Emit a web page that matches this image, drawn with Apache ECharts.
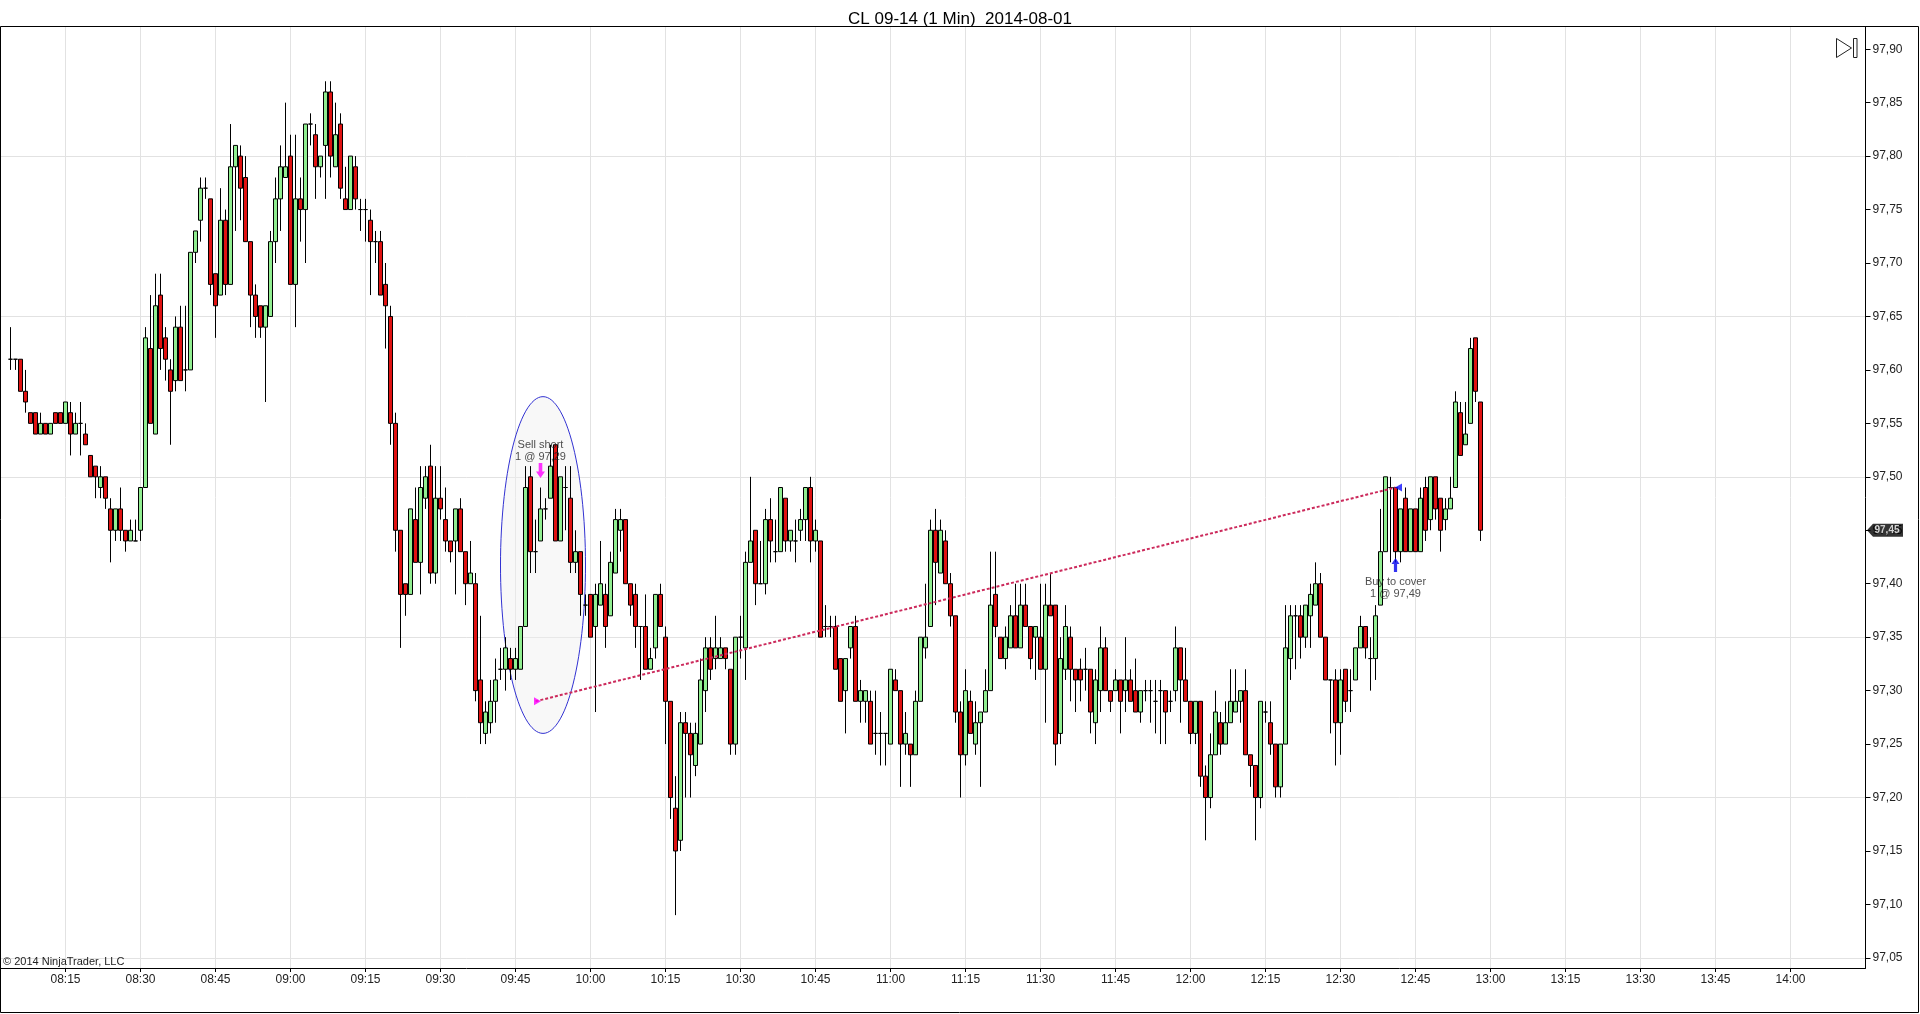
<!DOCTYPE html>
<html>
<head>
<meta charset="utf-8">
<title>CL 09-14 (1 Min) 2014-08-01</title>
<script src="https://cdn.jsdelivr.net/npm/echarts@6.0.0/dist/echarts.min.js"></script>
<style>
html,body{margin:0;padding:0;background:#fff;overflow:hidden}
#chart{width:1920px;height:1014px}
</style>
</head>
<body>
<div id="chart"></div>
<script>
// ---------------- DATA ----------------
const chartTitle = 'CL 09-14 (1 Min)  2014-08-01';
const axisStart = '08:02';
const axisEnd = '14:15';
const firstBar = '08:04';
const yTickMin = 97.05, yTickMax = 97.90, yTickStep = 0.05;

// 1-minute OHLC, one array per hour (08:04 .. 12:58)
const open08 = [97.61,97.61,97.61,97.58,97.56,97.56,97.54,97.55,97.54,97.56, 97.56,97.55,97.56,97.54,97.55,97.54,97.52,97.51,97.49,97.50, 97.47,97.45,97.47,97.45,97.44,97.44,97.45,97.49,97.62,97.54, 97.67,97.63,97.60,97.59,97.64,97.60,97.60,97.71,97.74,97.77, 97.76,97.69,97.67,97.74,97.68,97.79,97.80,97.78,97.72,97.67, 97.66,97.64,97.65,97.72,97.76,97.78];
const close08 = [97.61,97.61,97.58,97.57,97.55,97.54,97.55,97.54,97.55,97.55, 97.55,97.57,97.54,97.55,97.55,97.53,97.50,97.50,97.50,97.48, 97.45,97.47,97.45,97.44,97.45,97.44,97.49,97.63,97.55,97.66, 97.62,97.61,97.58,97.64,97.59,97.60,97.71,97.73,97.77,97.77, 97.68,97.66,97.74,97.68,97.79,97.81,97.77,97.72,97.67,97.65, 97.64,97.66,97.72,97.76,97.79,97.79];
const low08 = [97.60,97.60,97.58,97.56,97.55,97.54,97.54,97.54,97.54,97.55, 97.55,97.55,97.52,97.54,97.52,97.53,97.50,97.48,97.48,97.47, 97.42,97.44,97.44,97.43,97.44,97.44,97.44,97.49,97.55,97.54, 97.60,97.59,97.53,97.58,97.59,97.58,97.60,97.70,97.72,97.76, 97.67,97.63,97.67,97.67,97.68,97.73,97.74,97.72,97.64,97.63, 97.63,97.57,97.65,97.70,97.73,97.78];
const high08 = [97.64,97.61,97.61,97.60,97.56,97.56,97.56,97.55,97.55,97.56, 97.56,97.57,97.57,97.56,97.57,97.55,97.52,97.51,97.51,97.50, 97.48,97.47,97.49,97.45,97.46,97.46,97.49,97.64,97.67,97.69, 97.69,97.64,97.61,97.65,97.66,97.66,97.71,97.73,97.78,97.78, 97.76,97.69,97.77,97.75,97.83,97.81,97.81,97.80,97.72,97.68, 97.66,97.66,97.73,97.78,97.81,97.85];

const open09 = [97.80,97.68,97.76,97.75,97.83,97.82,97.79,97.81,97.86,97.79, 97.83,97.76,97.75,97.79,97.75,97.75,97.74,97.72,97.72,97.68, 97.65,97.55,97.45,97.40,97.39,97.46,97.42,97.48,97.51,97.41, 97.48,97.46,97.44,97.44,97.47,97.43,97.40,97.40,97.31,97.26, 97.27,97.29,97.32,97.32,97.33,97.32,97.32,97.36,97.50,97.43, 97.44,97.47,97.48,97.53,97.44,97.49,97.48,97.42,97.43,97.38];
const close09 = [97.68,97.76,97.75,97.83,97.83,97.79,97.80,97.86,97.80,97.82, 97.77,97.75,97.80,97.76,97.75,97.75,97.72,97.72,97.67,97.66, 97.55,97.45,97.39,97.39,97.47,97.42,97.49,97.50,97.41,97.48, 97.47,97.44,97.43,97.47,97.43,97.40,97.41,97.30,97.27,97.28, 97.29,97.31,97.32,97.34,97.32,97.33,97.36,97.49,97.43,97.43, 97.47,97.47,97.51,97.44,97.50,97.49,97.42,97.43,97.39,97.38];
const low09 = [97.68,97.64,97.72,97.70,97.81,97.76,97.78,97.76,97.78,97.79, 97.76,97.75,97.75,97.75,97.73,97.72,97.67,97.70,97.67,97.62, 97.53,97.43,97.34,97.37,97.39,97.42,97.39,97.47,97.40,97.40, 97.46,97.43,97.42,97.39,97.43,97.38,97.40,97.29,97.25,97.25, 97.26,97.27,97.31,97.30,97.31,97.31,97.32,97.36,97.41,97.41, 97.44,97.46,97.48,97.44,97.44,97.45,97.41,97.41,97.37,97.37];
const high09 = [97.82,97.82,97.78,97.83,97.84,97.83,97.80,97.87,97.87,97.85, 97.84,97.79,97.80,97.80,97.76,97.76,97.75,97.73,97.73,97.70, 97.66,97.56,97.45,97.40,97.47,97.49,97.51,97.51,97.53,97.51, 97.51,97.49,97.44,97.47,97.48,97.43,97.44,97.41,97.37,97.29, 97.31,97.33,97.34,97.35,97.34,97.34,97.36,97.51,97.51,97.46, 97.49,97.48,97.53,97.53,97.50,97.51,97.51,97.45,97.43,97.39];

const open10 = [97.39,97.36,97.38,97.39,97.37,97.41,97.45,97.46,97.40,97.39, 97.36,97.36,97.32,97.34,97.39,97.35,97.29,97.19,97.16,97.27, 97.26,97.23,97.25,97.30,97.34,97.33,97.33,97.34,97.32,97.25, 97.35,97.34,97.42,97.45,97.40,97.40,97.46,97.43,97.43,97.48, 97.44,97.44,97.45,97.46,97.49,97.44,97.44,97.36,97.36,97.36, 97.33,97.30,97.34,97.36,97.29,97.29,97.29,97.26,97.26,97.26];
const close10 = [97.35,97.39,97.40,97.36,97.42,97.46,97.46,97.40,97.38,97.36, 97.36,97.32,97.33,97.39,97.36,97.29,97.20,97.15,97.27,97.26, 97.24,97.26,97.31,97.34,97.32,97.34,97.34,97.33,97.25,97.35, 97.35,97.42,97.44,97.40,97.40,97.46,97.44,97.43,97.49,97.44, 97.45,97.44,97.46,97.49,97.44,97.45,97.35,97.36,97.36,97.32, 97.29,97.33,97.36,97.29,97.30,97.30,97.25,97.26,97.26,97.26];
const low10 = [97.35,97.28,97.38,97.34,97.37,97.41,97.43,97.40,97.37,97.34, 97.31,97.32,97.32,97.33,97.36,97.25,97.18,97.09,97.15,97.20, 97.20,97.22,97.25,97.28,97.31,97.32,97.33,97.32,97.24,97.24, 97.33,97.31,97.42,97.38,97.40,97.39,97.42,97.42,97.43,97.43, 97.43,97.42,97.44,97.44,97.42,97.43,97.35,97.35,97.35,97.32, 97.29,97.26,97.33,97.29,97.27,97.27,97.25,97.24,97.23,97.23];
const high10 = [97.39,97.40,97.44,97.40,97.43,97.47,97.47,97.46,97.40,97.40, 97.36,97.39,97.34,97.39,97.40,97.36,97.29,97.22,97.28,97.28, 97.27,97.27,97.33,97.35,97.35,97.37,97.35,97.34,97.32,97.35, 97.37,97.43,97.50,97.45,97.44,97.47,97.48,97.46,97.49,97.48, 97.45,97.46,97.47,97.49,97.50,97.46,97.44,97.38,97.37,97.37, 97.33,97.33,97.36,97.37,97.31,97.30,97.30,97.30,97.28,97.26];

const open11 = [97.25,97.31,97.30,97.25,97.25,97.24,97.29,97.34,97.36,97.45, 97.41,97.44,97.40,97.37,97.28,97.24,97.29,97.25,97.27,97.28, 97.30,97.39,97.35,97.33,97.34,97.37,97.34,97.38,97.36,97.35, 97.35,97.32,97.38,97.38,97.26,97.32,97.35,97.32,97.32,97.32, 97.32,97.27,97.30,97.34,97.30,97.30,97.31,97.30,97.31,97.30, 97.28,97.30,97.30,97.29,97.30,97.30,97.29,97.30,97.34,97.31];
const close11 = [97.32,97.30,97.25,97.26,97.24,97.29,97.35,97.35,97.45,97.42, 97.45,97.40,97.37,97.28,97.24,97.30,97.26,97.27,97.28,97.30, 97.38,97.36,97.33,97.35,97.37,97.34,97.38,97.36,97.33,97.36, 97.32,97.38,97.37,97.25,97.33,97.36,97.32,97.31,97.31,97.32, 97.28,97.31,97.34,97.30,97.29,97.31,97.29,97.31,97.29,97.28, 97.30,97.30,97.30,97.29,97.30,97.28,97.29,97.34,97.31,97.29];
const low11 = [97.25,97.30,97.21,97.24,97.21,97.24,97.29,97.33,97.36,97.38, 97.41,97.40,97.36,97.27,97.20,97.23,97.26,97.24,97.21,97.28, 97.30,97.35,97.33,97.32,97.34,97.34,97.34,97.36,97.32,97.31, 97.32,97.27,97.37,97.23,97.25,97.31,97.29,97.28,97.29,97.30, 97.26,97.25,97.28,97.30,97.28,97.30,97.26,97.28,97.29,97.28, 97.27,97.29,97.27,97.26,97.25,97.25,97.28,97.29,97.27,97.29];
const high11 = [97.32,97.32,97.30,97.28,97.25,97.30,97.35,97.40,97.46,97.47, 97.46,97.45,97.41,97.37,97.29,97.32,97.30,97.29,97.28,97.32, 97.43,97.43,97.35,97.36,97.38,97.40,97.40,97.40,97.36,97.36, 97.40,97.40,97.41,97.38,97.35,97.38,97.36,97.32,97.33,97.34, 97.32,97.32,97.36,97.35,97.30,97.32,97.31,97.35,97.32,97.33, 97.30,97.31,97.31,97.31,97.31,97.30,97.30,97.36,97.34,97.34];

const open12 = [97.29,97.26,97.29,97.22,97.20,97.24,97.27,97.25,97.27,97.28, 97.29,97.30,97.24,97.23,97.20,97.28,97.27,97.25,97.21,97.25, 97.33,97.37,97.37,97.35,97.37,97.38,97.40,97.35,97.31,97.31, 97.27,97.32,97.30,97.31,97.34,97.36,97.33,97.33,97.38,97.43, 97.49,97.49,97.43,97.48,97.43,97.47,97.43,97.49,97.46,97.50, 97.48,97.46,97.47,97.49,97.56,97.53,97.55,97.63,97.57];
const close12 = [97.26,97.29,97.22,97.20,97.24,97.28,97.25,97.27,97.29,97.29, 97.30,97.24,97.23,97.20,97.29,97.28,97.25,97.21,97.25,97.34, 97.37,97.37,97.35,97.38,97.39,97.40,97.35,97.31,97.31,97.27, 97.31,97.29,97.30,97.34,97.36,97.34,97.33,97.37,97.43,97.50, 97.49,97.43,97.47,97.43,97.47,97.43,97.48,97.45,97.50,97.47, 97.45,97.47,97.48,97.57,97.52,97.54,97.62,97.58,97.45];
const low12 = [97.25,97.25,97.21,97.16,97.19,97.24,97.24,97.25,97.27,97.28, 97.27,97.24,97.21,97.16,97.19,97.27,97.24,97.20,97.20,97.25, 97.31,97.32,97.33,97.34,97.34,97.38,97.35,97.31,97.26,97.23, 97.24,97.28,97.28,97.31,97.34,97.33,97.30,97.31,97.38,97.43, 97.42,97.42,97.42,97.43,97.43,97.43,97.43,97.44,97.45,97.46, 97.43,97.45,97.47,97.49,97.52,97.53,97.55,97.57,97.44];
const high12 = [97.29,97.29,97.29,97.23,97.26,97.30,97.28,97.29,97.32,97.32, 97.30,97.32,97.24,97.23,97.29,97.29,97.29,97.25,97.25,97.38, 97.38,97.38,97.38,97.38,97.40,97.42,97.41,97.35,97.31,97.32, 97.32,97.32,97.32,97.34,97.37,97.36,97.35,97.38,97.47,97.50, 97.50,97.49,97.47,97.49,97.47,97.47,97.49,97.50,97.50,97.50, 97.48,97.48,97.50,97.58,97.57,97.57,97.63,97.63,97.57];

// Trade (entry / exit) and the highlight ellipse
const tradeEntry = { time: '09:49', price: 97.29, arrowTime: '09:50', arrowPrice: 97.506, textPrice: 97.5245, text: 'Sell short\n1 @ 97,29' };
const tradeExit  = { time: '12:41', price: 97.49, arrowTime: '12:41', arrowPrice: 97.4175, textPrice: 97.396, text: 'Buy to cover\n1 @ 97,49' };
const ellipseTimes = ['09:42', '09:59'];
const ellipsePrices = [97.575, 97.26];

// ---------------- BUILD ----------------
function toMin(s){ const p = s.split(':'); return (+p[0])*60 + (+p[1]); }
function fmtMin(m){ return String(Math.floor(m/60)).padStart(2,'0') + ':' + String(m%60).padStart(2,'0'); }
const cats = [];
for (let m = toMin(axisStart); m <= toMin(axisEnd); m++) cats.push(fmtMin(m));

const opens  = [].concat(open08, open09, open10, open11, open12);
const closes = [].concat(close08, close09, close10, close11, close12);
const lows   = [].concat(low08, low09, low10, low11, low12);
const highs  = [].concat(high08, high09, high10, high11, high12);
const firstIdx = cats.indexOf(firstBar);
const candleData = opens.map((o, k) => [firstIdx + k, o, closes[k], lows[k], highs[k]]);
const lastClose = closes[closes.length - 1];

const quarter = (i, v) => (+v.slice(3)) % 15 === 0 && v !== axisEnd;
const fmtPrice = v => Number(v).toFixed(2).replace('.', ',');
const FONT = 'Arial, "Liberation Sans", sans-serif';

const GL = 0.5, GR = 54.5;

const option = {
  animation: false,
  backgroundColor: '#ffffff',
  title: {
    text: chartTitle, left: 'center', top: 6,
    textStyle: { fontFamily: FONT, fontSize: 17, fontWeight: 'normal', color: '#000' }
  },
  grid: [
    { left: GL, right: GR, top: 27, bottom: 46 },
    { left: GL, right: GR, top: 49.2, bottom: 56.1 }
  ],
  xAxis: [
    {
      type: 'category', gridIndex: 0, data: cats, boundaryGap: false,
      axisLine: { show: true, onZero: false, lineStyle: { color: '#000', width: 1 } },
      axisTick: { show: true, interval: quarter, length: 4, lineStyle: { color: '#000' } },
      axisLabel: { interval: quarter, color: '#222', fontSize: 12, fontFamily: FONT, margin: 6 },
      splitLine: { show: true, interval: quarter, lineStyle: { color: '#e2e2e2', width: 1 } }
    },
    {
      type: 'category', gridIndex: 1, data: cats, boundaryGap: false, show: false
    }
  ],
  yAxis: [
    {
      type: 'value', gridIndex: 0, position: 'right', min: 0, max: 1,
      axisLine: { show: true, onZero: false, lineStyle: { color: '#000', width: 1 } },
      axisTick: { show: false }, axisLabel: { show: false }, splitLine: { show: false }
    },
    {
      type: 'value', gridIndex: 1, position: 'right', min: yTickMin, max: yTickMax, interval: yTickStep,
      axisLine: { show: false },
      axisTick: { show: true, length: 5, lineStyle: { color: '#000' } },
      axisLabel: { formatter: fmtPrice, color: '#222', fontSize: 12, fontFamily: FONT, margin: 7 },
      splitLine: { show: true, lineStyle: { color: ['#e2e2e2', 'rgba(0,0,0,0)', 'rgba(0,0,0,0)'], width: 1 } }
    }
  ],
  series: [
    {
      type: 'custom', name: 'ellipse', xAxisIndex: 1, yAxisIndex: 1, z: 1,
      encode: { x: [0, 1], y: [2, 3] },
      data: [[cats.indexOf(ellipseTimes[0]), cats.indexOf(ellipseTimes[1]), ellipsePrices[0], ellipsePrices[1]]],
      renderItem: function (params, api) {
        const a = api.coord([api.value(0), api.value(2)]);
        const b = api.coord([api.value(1), api.value(3)]);
        const cx = (a[0] + b[0]) / 2, cy = (a[1] + b[1]) / 2;
        const rx = Math.abs(b[0] - a[0]) / 2, ry = Math.abs(b[1] - a[1]) / 2;
        const pts = [];
        for (let i = 0; i < 120; i++) {
          const t = i / 120 * Math.PI * 2;
          pts.push([cx + rx * Math.cos(t), cy + ry * Math.sin(t)]);
        }
        return { type: 'polygon', shape: { points: pts },
          style: { fill: 'rgba(240,240,240,0.45)', stroke: '#3232d2', lineWidth: 1 } };
      }
    },
    {
      type: 'candlestick', name: 'CL', xAxisIndex: 1, yAxisIndex: 1, z: 3,
      encode: { x: 0, y: [1, 2, 3, 4] },
      data: candleData,
      barWidth: 4,
      itemStyle: { color: '#90ee90', color0: '#e01212', borderColor: '#000', borderColor0: '#000', borderColorDoji: '#000', borderWidth: 1 }
    },
    {
      type: 'line', name: 'trade', xAxisIndex: 1, yAxisIndex: 1, z: 4,
      data: [[tradeEntry.time, tradeEntry.price], [tradeExit.time, tradeExit.price]],
      symbol: 'none',
      lineStyle: { color: '#cc2a5c', width: 2, type: [3, 2] }
    },
    {
      type: 'scatter', name: 'entryMark', xAxisIndex: 1, yAxisIndex: 1, z: 5, clip: false,
      data: [[tradeEntry.time, tradeEntry.price]],
      symbol: 'triangle', symbolRotate: -90, symbolSize: [8, 7], symbolOffset: [2, 0],
      itemStyle: { color: '#ff00ff' }
    },
    {
      type: 'scatter', name: 'exitMark', xAxisIndex: 1, yAxisIndex: 1, z: 5, clip: false,
      data: [[tradeExit.time, tradeExit.price]],
      symbol: 'triangle', symbolRotate: 90, symbolSize: [8, 7], symbolOffset: [3, 0],
      itemStyle: { color: '#1010ff' }
    },
    {
      type: 'scatter', name: 'sellArrow', xAxisIndex: 1, yAxisIndex: 1, z: 6, clip: false,
      data: [[tradeEntry.arrowTime, tradeEntry.arrowPrice]],
      symbol: 'path://M3,0 L7,0 L7,8 L10,8 L5,14 L0,8 L3,8 Z', symbolSize: [9, 15],
      itemStyle: { color: '#ff00ff' }
    },
    {
      type: 'scatter', name: 'buyArrow', xAxisIndex: 1, yAxisIndex: 1, z: 6, clip: false,
      data: [[tradeExit.arrowTime, tradeExit.arrowPrice]],
      symbol: 'path://M5,0 L10,6 L7,6 L7,14 L3,14 L3,6 L0,6 Z', symbolSize: [8, 14],
      itemStyle: { color: '#0000ee' }
    },
    {
      type: 'scatter', name: 'texts', xAxisIndex: 1, yAxisIndex: 1, z: 7, clip: false,
      data: [
        { value: [tradeEntry.arrowTime, tradeEntry.textPrice], label: { formatter: tradeEntry.text } },
        { value: [tradeExit.arrowTime, tradeExit.textPrice], label: { formatter: tradeExit.text } }
      ],
      symbolSize: 1, itemStyle: { color: 'rgba(0,0,0,0)' },
      label: { show: true, position: 'inside', color: '#222', fontSize: 11, lineHeight: 12, fontFamily: FONT, align: 'center' }
    },
    {
      type: 'scatter', name: 'lastPrice', xAxisIndex: 1, yAxisIndex: 1, z: 8, clip: false,
      data: [[axisEnd, lastClose]],
      symbol: 'path://M0,6.5 L6,0 L36,0 L36,13 L6,13 Z', symbolSize: [36, 13], symbolOffset: [19.5, 0],
      itemStyle: { color: '#000' },
      label: { show: true, position: 'inside', formatter: fmtPrice(lastClose), color: '#fff', fontSize: 10, fontWeight: 'bold', fontFamily: FONT, offset: [2, 0] }
    }
  ],
  graphic: [
    { type: 'rect', z: 100, silent: true, shape: { x: 0.5, y: 26.5, width: 1918, height: 986 }, style: { fill: 'none', stroke: '#000', lineWidth: 1 } },
    { type: 'text', z: 100, silent: true, left: 3, top: 956, style: { text: '\u00a9 2014 NinjaTrader, LLC', fill: '#222', font: '11px Arial, "Liberation Sans", sans-serif' } },
    { type: 'polygon', z: 100, silent: true, shape: { points: [[1836.5, 38.5], [1851.5, 48], [1836.5, 57.5]] }, style: { fill: '#fff', stroke: '#222', lineWidth: 1 } },
    { type: 'rect', z: 100, silent: true, shape: { x: 1853.5, y: 38.5, width: 3.5, height: 19 }, style: { fill: '#fff', stroke: '#222', lineWidth: 1 } }
  ]
};

const chart = echarts.init(document.getElementById('chart'), null, { renderer: 'canvas' });
chart.setOption(option);
</script>
</body>
</html>
